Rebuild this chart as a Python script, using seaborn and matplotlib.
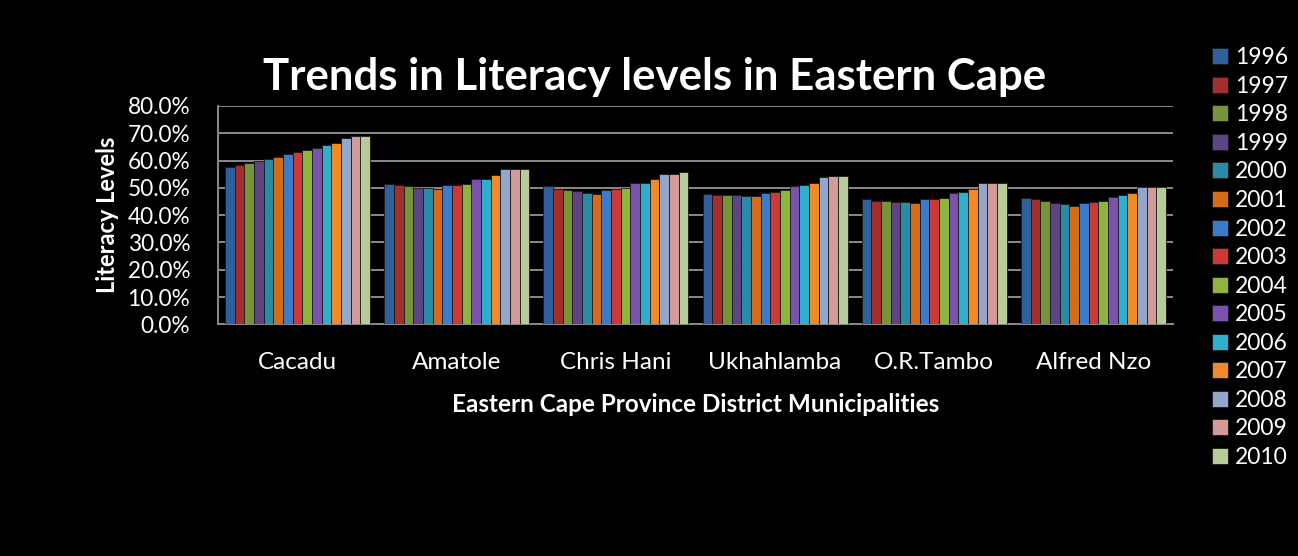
import matplotlib
matplotlib.use("Agg")
import matplotlib.pyplot as plt
import seaborn as sns
import pandas as pd
from matplotlib.ticker import PercentFormatter

districts = ["Cacadu", "Amatole", "Chris Hani", "Ukhahlamba", "O.R.Tambo", "Alfred Nzo"]
years = [str(y) for y in range(1996, 2011)]

cacadu = [57.6, 58.5, 59.0, 60.0, 60.4, 61.4, 62.3, 63.1, 63.7, 64.7, 65.6, 66.5, 68.4, 68.9, 68.9]
amatole = [51.5, 51.0, 50.5, 50.1, 50.1, 49.7, 51.0, 51.0, 51.5, 53.4, 53.2, 54.8, 57.0, 57.0, 57.0]
chris_hani = [50.5, 49.6, 49.1, 48.7, 48.2, 47.7, 49.1, 49.6, 50.1, 51.9, 51.9, 53.4, 55.2, 55.2, 55.7]
ukhahlamba = [47.7, 47.3, 47.3, 47.3, 47.1, 47.1, 48.2, 48.6, 49.1, 50.5, 51.0, 51.9, 53.8, 54.3, 54.3]
or_tambo = [45.8, 45.3, 45.3, 44.8, 44.8, 44.4, 45.8, 45.8, 46.3, 48.2, 48.6, 49.6, 51.8, 51.8, 51.8]
alfred_nzo = [46.3, 45.8, 45.3, 44.4, 44.0, 43.5, 44.4, 44.8, 45.3, 46.8, 47.3, 48.2, 50.3, 50.3, 50.3]

colors = ["#2f5f9c", "#a32f2c", "#76943a", "#5d4584", "#2a8ba6", "#d36d1c",
          "#3a7bcc", "#cc3a38", "#8db43e", "#7a52ad", "#2eafd0", "#f08a26",
          "#93a6cc", "#d29b9a", "#b7cb98"]

series = [cacadu, amatole, chris_hani, ukhahlamba, or_tambo, alfred_nzo]
rows = []
for d, vals in zip(districts, series):
    for y, v in zip(years, vals):
        rows.append({"district": d, "year": y, "value": v / 100.0})
df = pd.DataFrame(rows)

sns.set_theme(style="dark")
plt.rcParams["font.family"] = ["Lato", "DejaVu Sans"]

fig = plt.figure(figsize=(12.98, 5.56), dpi=100, facecolor="black")
ax = fig.add_axes([218/1298, 1-324.3/556, (1173-218)/1298, (324.3-106)/556])
ax.set_facecolor("black")

sns.barplot(data=df, x="district", y="value", hue="year", palette=colors,
            width=0.91, ax=ax, linewidth=0.6, edgecolor="#1a1a1a", saturation=1,
            legend=True, zorder=3)

ax.set_ylim(0, 0.8)
ax.set_xlim(-0.5, 5.5)
ax.set_yticks([i / 10 for i in range(9)])
ax.yaxis.set_major_formatter(PercentFormatter(1.0, decimals=1))
ax.grid(axis="y", color="#8a8a8a", linewidth=1.4, zorder=0)
ax.grid(axis="x", visible=False)
for s in ["top", "right"]:
    ax.spines[s].set_visible(False)
for s in ["left", "bottom"]:
    ax.spines[s].set_visible(True)
    ax.spines[s].set_color("#8a8a8a")
    ax.spines[s].set_linewidth(1.4)
ax.tick_params(axis="y", colors="#8a8a8a", length=8, width=1.4, direction="out",
               labelcolor="white", labelsize=16.3, pad=12)
ax.tick_params(axis="x", length=0, labelcolor="white", labelsize=17.5, pad=20)

ax.set_xlabel("Eastern Cape Province District Municipalities", color="white",
              fontsize=17.5, fontweight="bold", labelpad=14)
ax.set_ylabel("Literacy Levels", color="white", fontsize=17, fontweight="bold", labelpad=6)

fig.text(655/1298, 1-77/556, "Trends in Literacy levels in Eastern Cape", color="white",
         fontsize=31.5, fontweight="bold", ha="center", va="center")

handles, labels = ax.get_legend_handles_labels()
ax.get_legend().remove()
leg = fig.legend(handles, labels, loc="upper left", bbox_to_anchor=(1203/1298, 1-38/556),
                 frameon=False, fontsize=16.5, handlelength=0.7, handleheight=0.7,
                 handletextpad=0.3, labelspacing=0.33, borderaxespad=0)
for t in leg.get_texts():
    t.set_color("white")

fig.savefig("out.png", dpi=100, facecolor="black")
